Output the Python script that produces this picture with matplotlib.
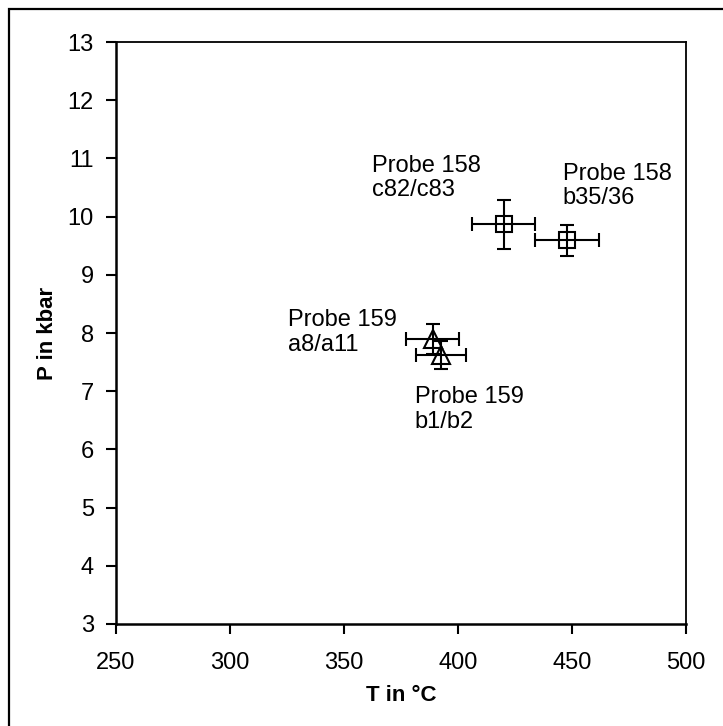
"""
P-T plot for Probe 158 / 159 with error bars
"""

from matplotlib import pyplot as plt
from matplotlib.patches import Rectangle

plt.rcParams['font.family'] = ['Liberation Sans', 'DejaVu Sans']

# Probe 158 (squares)
t_158 = [420, 448]
p_158 = [9.87, 9.59]
t_err_158 = [14, 14]
p_err_158 = [0.42, 0.265]

# Probe 159 (triangles)
t_159 = [389, 392.6]
p_159 = [7.9, 7.63]
t_err_159 = [11.6, 11]
p_err_159 = [0.26, 0.24]

labels = ["Probe 158\nc82/c83", "Probe 158\nb35/36", "Probe 159\na8/a11", "Probe 159\nb1/b2"]
label_t = [362.5, 446, 325.5, 381]
label_p = [11.06, 10.93, 8.41, 7.09]

x_ticks = [250, 300, 350, 400, 450, 500]
y_ticks = [3, 4, 5, 6, 7, 8, 9, 10, 11, 12, 13]

fig = plt.figure(figsize=(7.23, 7.26), dpi=100)
ax = fig.add_axes([0.1604, 0.1405, 0.7884, 0.8016])

fig.patches.append(Rectangle((0.012, -0.1), 1.2, 1.0876, transform=fig.transFigure,
                             fill=False, edgecolor='black', linewidth=1.6))

err_style = dict(fmt='none', ecolor='black', elinewidth=1.5, capsize=5, capthick=1.5)
ax.errorbar(t_158, p_158, xerr=t_err_158, yerr=p_err_158, **err_style)
ax.errorbar(t_159, p_159, xerr=t_err_159, yerr=p_err_159, **err_style)
ax.plot(t_158, p_158, 's', markersize=12, markerfacecolor='none', markeredgecolor='black', markeredgewidth=1.5)
ax.plot(t_159, p_159, '^', markersize=13, markerfacecolor='none', markeredgecolor='black', markeredgewidth=1.5)

for text, t, p in zip(labels, label_t, label_p):
    ax.text(t, p, text, fontsize=17, va='top', ha='left', linespacing=1.15)

ax.set_xlim(250, 500)
ax.set_ylim(3, 13)
ax.set_xticks(x_ticks)
ax.set_yticks(y_ticks)
ax.tick_params(axis='both', direction='out', length=7, width=1.5, labelsize=17)
ax.tick_params(axis='y', pad=9)
ax.tick_params(axis='x', pad=13)
for side in ['left', 'bottom']:
    ax.spines[side].set_linewidth(1.8)
for side in ['top', 'right']:
    ax.spines[side].set_linewidth(1.3)

ax.set_xlabel("T in °C", fontsize=16, fontweight='bold', labelpad=8)
ax.set_ylabel("P in kbar", fontsize=16, fontweight='bold', labelpad=7)

plt.savefig("out.png", dpi=100)
plt.close()
